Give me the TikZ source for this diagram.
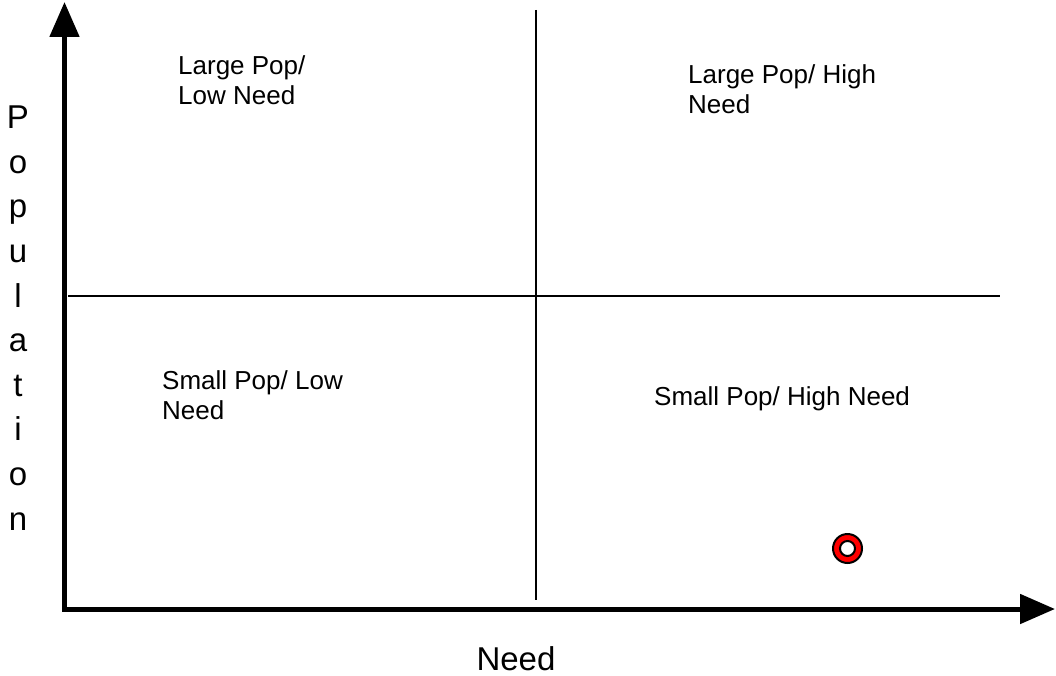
\documentclass[tikz,border=0pt]{standalone}
\usepackage{fontspec}
\setmainfont{Liberation Sans}
\usetikzlibrary{arrows.meta}
\begin{document}
\begin{tikzpicture}[x=1pt,y=-1pt,
  axis/.style={line width=5pt, -{Triangle[width=29pt,length=35pt]}},
  divider/.style={line width=1.4pt},
  qlabel/.style={font=\fontsize{26}{30}\selectfont, align=left, anchor=base west, inner sep=0pt},
  biglabel/.style={font=\fontsize{33}{44.6}\selectfont, align=center, anchor=base, inner sep=0pt},
]
\useasboundingbox (0,0) rectangle (1056,676);
% axes
\coordinate (ybot) at (64.5,611.5);
\coordinate (ytip) at (64.5,2);
\coordinate (xleft) at (62,609);
\coordinate (xtip) at (1055,609);
\draw[axis] (ybot) -- (ytip);
\draw[axis] (xleft) -- (xtip);
% dividers
\coordinate (vtop) at (536,10);
\coordinate (vbot) at (536,600);
\coordinate (hleft) at (68,296);
\coordinate (hright) at (1000,296);
\draw[divider] (vtop) -- (vbot);
\draw[divider] (hleft) -- (hright);
% quadrant labels (base = last line's baseline)
\node[qlabel] (ll) at (178,105) {Large Pop/\\Low Need};
\node[qlabel] (lh) at (688,114) {Large Pop/ High\\Need};
\node[qlabel] (sl) at (162,419) {Small Pop/ Low\\Need};
\node[qlabel] (sh) at (654,405) {Small Pop/ High Need};
% axis labels
\node[biglabel] (need) at (516,670) {Need};
\node[biglabel] (pop) at (18,530) {P\\o\\p\\u\\l\\a\\t\\i\\o\\n};
% marker
\node[circle, fill=red, draw=black, line width=2pt, minimum size=29pt, inner sep=0pt] (marker) at (847.5,548.5) {};
\node[circle, fill=white, draw=black, line width=2pt, minimum size=15pt, inner sep=0pt] (hole) at (marker.center) {};
\end{tikzpicture}
\end{document}
